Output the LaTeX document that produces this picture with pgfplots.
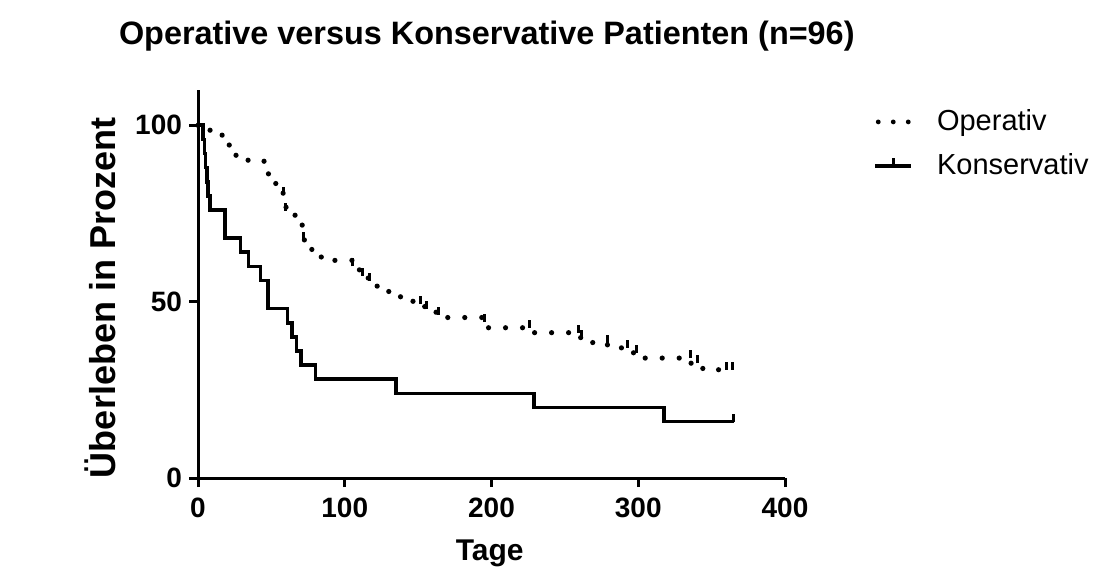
\documentclass[border=0pt]{standalone}
\usepackage{fontspec}
\setmainfont{Liberation Sans}
\usepackage{pgfplots}
\pgfplotsset{compat=1.18}
\pgfdeclareplotmark{cens}{\pgfpathmoveto{\pgfpoint{0pt}{0pt}}\pgfpathlineto{\pgfpoint{0pt}{4pt}}\pgfusepathqstroke}
\begin{document}
\begin{tikzpicture}
\useasboundingbox (0,0) rectangle (551pt,287.5pt);
\begin{axis}[
  at={(99pt,48.5pt)}, anchor=origin,
  scale only axis, width=293.5pt, height=194pt,
  xmin=0, xmax=400, ymin=0, ymax=110,
  axis lines=left, axis line style={line width=1.5pt, -},
  xtick={0,100,200,300,400}, ytick={0,50,100},
  tick align=outside, major tick length=4.5pt,
  tick style={line width=1.5pt, black},
  minor tick num=0,
  /pgf/number format/assume math mode=true,
  tick label style={font=\bfseries\fontsize{14}{16}\selectfont},
  xticklabel style={yshift=-2pt},
  title={\bfseries\fontsize{16.2}{19}\selectfont Operative versus Konservative Patienten (n=96)},
  title style={at={(axis description cs:0.492,1.108)}, anchor=center},
  xlabel={\bfseries\fontsize{15}{18}\selectfont Tage},
  xlabel style={at={(axis description cs:0.497,-0.193)}, anchor=center},
  ylabel={\bfseries\fontsize{18}{20}\selectfont Überleben in Prozent},
  ylabel style={at={(axis description cs:-0.167,0.464)}, anchor=center, rotate=0},
  clip=false,
  legend style={at={(axis description cs:1.15,0.96)}, anchor=north west, draw=none, fill=none,
    font=\fontsize{14.5}{17}\selectfont, row sep=6pt, inner sep=0pt,
    nodes={inner sep=2pt}},
  legend cell align=left,
  /tikz/every odd column/.append style={column sep=10pt},
]
\addplot[const plot, black, line width=2.6pt, line cap=round, dash pattern=on 0pt off 8.5pt,
  legend image code/.code={\draw[black, line width=2.4pt, line cap=round, dash pattern=on 0pt off 7.5pt] (1.5pt,0pt) -- (17pt,0pt); \draw[black, line width=1.5pt] (9pt,0pt) -- (9pt,3pt);}]
coordinates {
(0,100) (3,98.6) (15,97.2) (18,95.8) (21,94.4) (23,93.0) (25,91.5) (27,90.1)
(45,88.7) (47,87.3) (48,85.9) (51,84.4) (53,83.0) (55,81.6) (58,80.2) (59,77.5)
(60,75.7) (63,74.5) (67,73.0) (71,70.5) (72,67.5) (73,66.2) (75,64.8) (79,63.6)
(84,62.3) (88,61.7) (105,60.0) (110,58.9) (112,57.4) (116,55.9) (118,54.4)
(125,53.0) (130,52.3) (134,51.5) (138,50.8) (143,50.1) (150,49.3) (152,48.6)
(156,47.8) (160,47.0) (164,46.3) (168,45.5) (194,44.2) (196,42.6) (227,41.2)
(260,39.8) (262,38.4) (279,36.9) (292,35.5) (298,34.0) (336,32.5) (340,31.6)
(344,30.7) (365,30.7)
};
\addlegendentry{Operativ}
\addplot[const plot, black, line width=1.8pt,
  legend image code/.code={\draw[black, line width=1.8pt] (0pt,0pt) -- (18pt,0pt); \draw[black, line width=1.5pt] (9pt,0pt) -- (9pt,4pt);}]
coordinates {
(0,100) (3.5,96) (4.5,92) (5.2,88) (6,84) (7,80) (8.3,76) (18.5,68) (29,64)
(34.5,60) (42.5,56) (47.5,48) (61,44) (64,40) (67,36) (70,32) (80,28) (135,24)
(229,20) (317.6,16) (365,16)
};
\addlegendentry{Konservativ}
% censor ticks
\addplot[only marks, mark=cens, mark options={line width=1.5pt, black}, forget plot]
coordinates {
(58,80.2) (59.6,75.7) (72,67.5) (105,60.0) (112,57.4) (116.7,55.9) (151.6,49.3)
(156,47.8) (164,46.3) (195.4,44.2) (226,42.6) (259,41.2) (261.6,39.8) (278.8,38.4)
(292.5,36.9) (298.6,35.5) (335.8,34.0) (340.4,32.5) (359.8,30.7) (364.4,30.7)
};
\addplot[only marks, mark=cens, mark options={line width=1.8pt, black}, forget plot]
coordinates {(365,16)};
\end{axis}
\end{tikzpicture}
\end{document}
